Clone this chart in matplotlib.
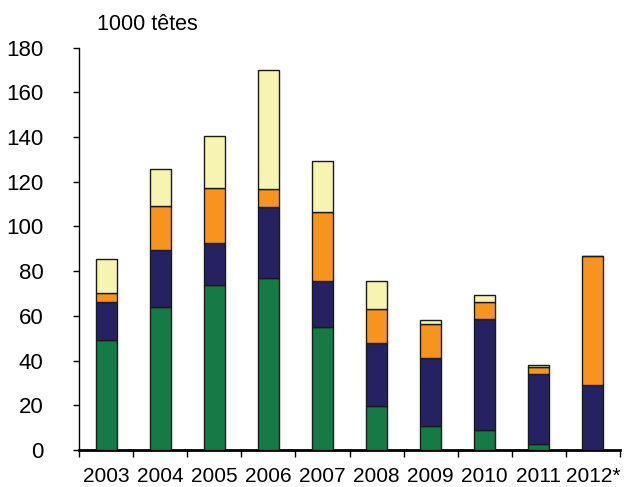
import matplotlib.pyplot as plt
import numpy as np

plt.rcParams['font.family'] = ['Liberation Sans', 'DejaVu Sans']

# values (1000 head)
years = ["2003", "2004", "2005", "2006", "2007", "2008", "2009", "2010", "2011", "2012*"]
green = [49.3, 64.2, 74.0, 76.9, 54.9, 19.8, 10.6, 8.8, 2.8, 0]
navy = [16.8, 25.1, 18.7, 31.8, 20.9, 28.0, 30.6, 49.9, 31.1, 29.0]
orange = [4.1, 19.8, 24.5, 7.9, 30.6, 15.2, 15.2, 7.4, 3.1, 57.9]
yellow = [15.3, 16.6, 23.1, 53.6, 23.0, 12.8, 1.8, 3.2, 1.1, 0]

series = [green, navy, orange, yellow]
colors = ["#157a45", "#262262", "#f7941d", "#f7f3b1"]

fig = plt.figure(figsize=(6.26, 4.87), dpi=100)
ax = fig.add_axes([79 / 626, 1 - 450 / 487, 541 / 626, (450 - 47.7) / 487])

x = np.arange(len(years))
bottom = np.zeros(len(years))
for vals, col in zip(series, colors):
    vals = np.array(vals)
    ax.bar(x, vals, width=0.39, bottom=bottom, color=col,
           edgecolor="#1a1a1a", linewidth=1.0, zorder=3)
    bottom += vals

ax.set_xlim(-0.5, len(years) - 0.5)
ax.set_ylim(0, 180)
ax.set_yticks(range(0, 181, 20))
ax.tick_params(axis="y", labelsize=16, length=4, width=1, pad=21.5, direction="out")

# x ticks at category boundaries, labels centred on bars
ax.set_xticks(np.arange(-0.5, len(years), 1))
ax.set_xticklabels([])
ax.set_xticks(x, minor=True)
ax.set_xticklabels(years, minor=True, fontsize=15)
ax.tick_params(axis="x", which="major", length=5, width=1, direction="out")
ax.tick_params(axis="x", which="minor", length=0, pad=12)

for s in ["top", "right"]:
    ax.spines[s].set_visible(False)
ax.spines["left"].set_linewidth(1)
ax.spines["bottom"].set_linewidth(2)

fig.text(97 / 626, 1 - 25 / 487, "1000 têtes", fontsize=15.5, va="center", ha="left")

fig.savefig("out.png", dpi=100)
